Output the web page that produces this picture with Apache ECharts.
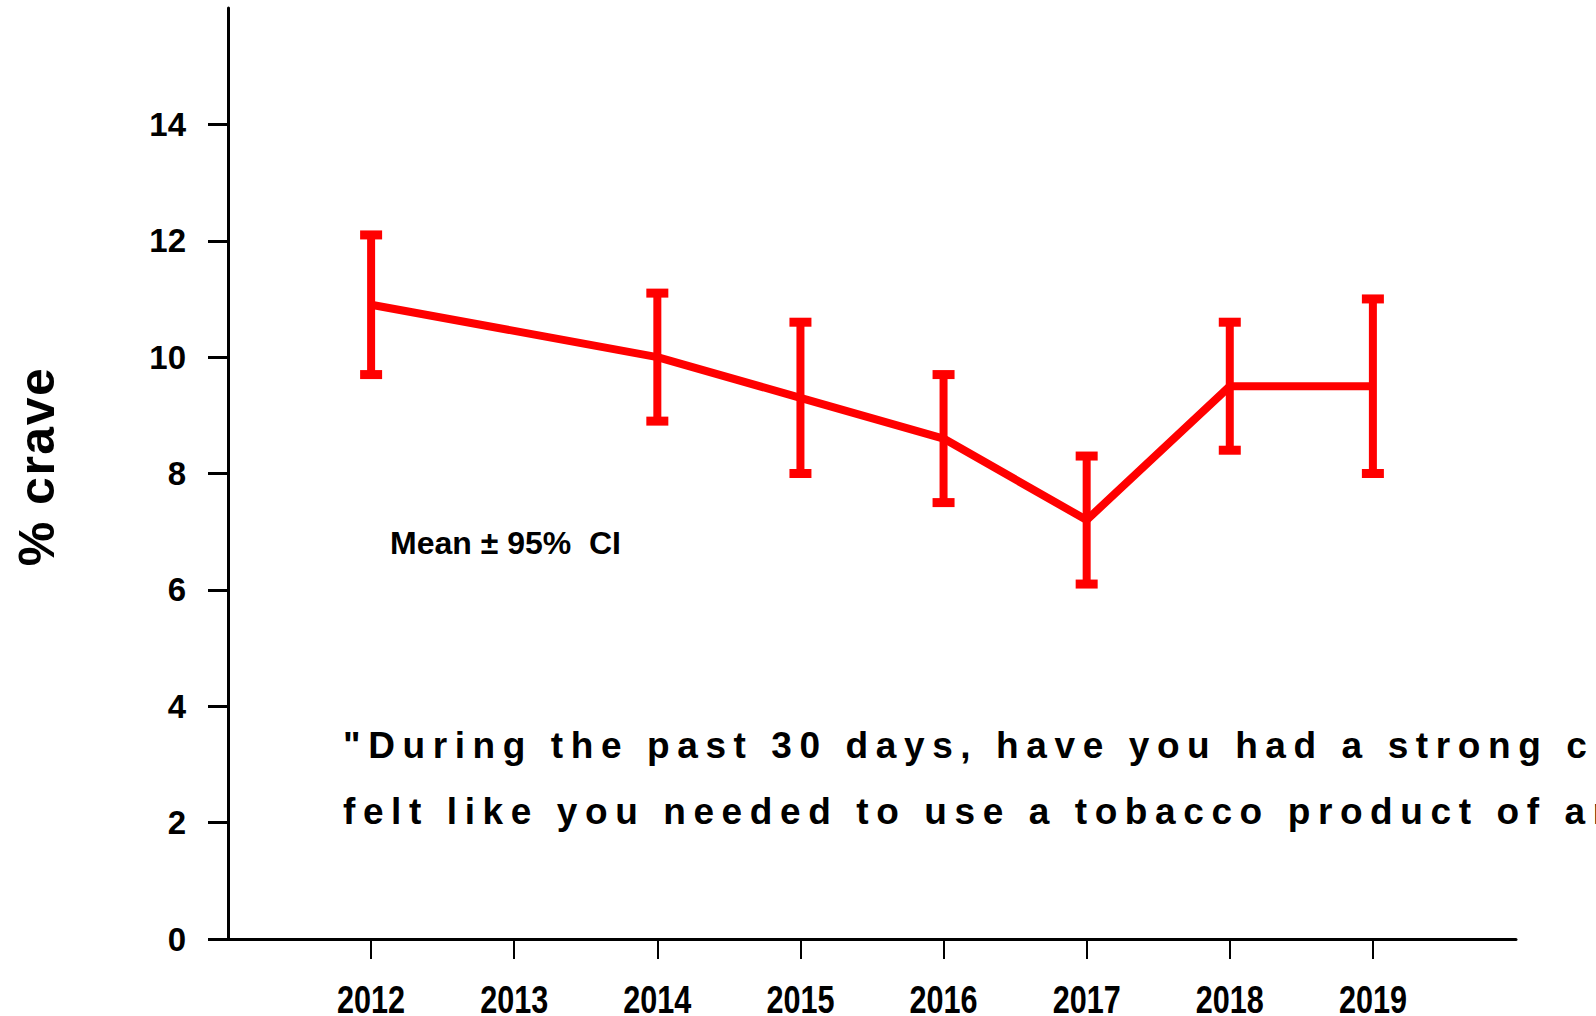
<!DOCTYPE html>
<html>
<head>
<meta charset="utf-8">
<script src="https://cdn.jsdelivr.net/npm/echarts@6/dist/echarts.min.js"></script>
<style>
html,body{margin:0;padding:0;background:#ffffff;}
#chart{width:1596px;height:1016px;}
</style>
</head>
<body>
<div id="chart"></div>
<script>
// ---- data ----
const years = [2012, 2014, 2015, 2016, 2017, 2018, 2019];
const means = [10.9, 10.0, 9.3, 8.6, 7.2, 9.5, 9.5];
const lower = [9.7, 8.9, 8.0, 7.5, 6.1, 8.4, 8.0];
const upper = [12.1, 11.1, 10.6, 9.7, 8.3, 10.6, 11.0];
const xTickYears = [2012, 2013, 2014, 2015, 2016, 2017, 2018, 2019];
const yTickValues = [0, 2, 4, 6, 8, 10, 12, 14];
const yAxisTitle = '% crave';
const noteText = 'Mean ± 95%  CI';
const questionLines = [
  '"During the past 30 days, have you had a strong craving or',
  'felt like you needed to use a tobacco product of any kind?"'
];

// ---- chart ----
const RED = '#ff0000';
const BOLD = "'Liberation Sans', Arial, sans-serif";

const chart = echarts.init(document.getElementById('chart'), null, {renderer: 'svg'});

const option = {
  animation: false,
  backgroundColor: '#ffffff',
  grid: {left: 228, right: 80, top: 8, bottom: 77, containLabel: false, outerBoundsMode: 'none'},
  xAxis: {
    type: 'value',
    min: 2011, max: 2020, interval: 1,
    splitLine: {show: false},
    axisLine: {show: true, onZero: false, lineStyle: {color: '#000', width: 3}},
    axisTick: {show: true, length: 20, customValues: xTickYears, lineStyle: {color: '#000', width: 2}},
    axisLabel: {
      show: true, customValues: xTickYears, margin: 45,
      color: '#000', fontFamily: BOLD, fontWeight: 'bold', fontSize: 39, lineHeight: 30,
      formatter: v => String(v)
    }
  },
  yAxis: {
    type: 'value',
    min: 0, max: 16, interval: 2,
    splitLine: {show: false},
    axisLine: {show: true, lineStyle: {color: '#000', width: 3}},
    axisTick: {show: true, length: 20, customValues: yTickValues, lineStyle: {color: '#000', width: 3}},
    axisLabel: {
      show: true, customValues: yTickValues, margin: 42,
      color: '#000', fontFamily: BOLD, fontWeight: 'bold', fontSize: 33,
      padding: [13, 0, 0, 0]
    },
    name: yAxisTitle,
    nameLocation: 'middle',
    nameRotate: 90,
    nameGap: 166,
    nameTextStyle: {color: '#000', fontFamily: BOLD, fontWeight: 'bold', fontSize: 50, padding: [0, 0, 0, 14]}
  },
  graphic: {
    elements: [
      {type: 'text', x: 390, y: 543, style: {text: noteText, fill: '#000', font: "bold 32px 'Liberation Sans', Arial, sans-serif", textAlign: 'left', textVerticalAlign: 'middle'}},
      {type: 'text', x: 343, y: 745, style: {text: questionLines[0], fill: '#000', font: "bold 37px 'Liberation Sans', Arial, sans-serif", textAlign: 'left', textVerticalAlign: 'middle'}},
      {type: 'text', x: 343, y: 811, style: {text: questionLines[1], fill: '#000', font: "bold 37px 'Liberation Sans', Arial, sans-serif", textAlign: 'left', textVerticalAlign: 'middle'}}
    ]
  },
  series: [
    {
      type: 'line',
      data: years.map((y, i) => [y, means[i]]),
      symbol: 'none',
      lineStyle: {color: RED, width: 8},
      z: 3
    },
    {
      type: 'custom',
      data: years.map((y, i) => [y, lower[i], upper[i]]),
      renderItem: function (params, api) {
        const x = api.value(0);
        const pLo = api.coord([x, api.value(1)]);
        const pHi = api.coord([x, api.value(2)]);
        const capW = 22, capH = 9;
        return {
          type: 'group',
          children: [
            {type: 'line', shape: {x1: pLo[0], y1: pLo[1], x2: pHi[0], y2: pHi[1]}, style: {stroke: RED, lineWidth: 8}},
            {type: 'rect', shape: {x: pHi[0] - capW / 2, y: pHi[1] - capH / 2, width: capW, height: capH}, style: {fill: RED}},
            {type: 'rect', shape: {x: pLo[0] - capW / 2, y: pLo[1] - capH / 2, width: capW, height: capH}, style: {fill: RED}}
          ]
        };
      },
      z: 4
    }
  ]
};

chart.setOption(option);

const yearStrings = xTickYears.map(String);
function applyTextStyles() {
  const texts = document.querySelectorAll('#chart text');
  texts.forEach(t => {
    const s = t.textContent;
    if (s === questionLines[0] || s === questionLines[1]) {
      t.setAttribute('letter-spacing', '7.6');
    } else if (s === yAxisTitle) {
      t.setAttribute('letter-spacing', '1.5');
    } else if (yearStrings.indexOf(s) >= 0) {
      // condensed year labels, as in the reference
      t.setAttribute('textLength', '68');
      t.setAttribute('lengthAdjust', 'spacingAndGlyphs');
    }
  });
}
chart.getZr().refreshImmediately();
applyTextStyles();
chart.on('finished', applyTextStyles);
</script>
</body>
</html>
